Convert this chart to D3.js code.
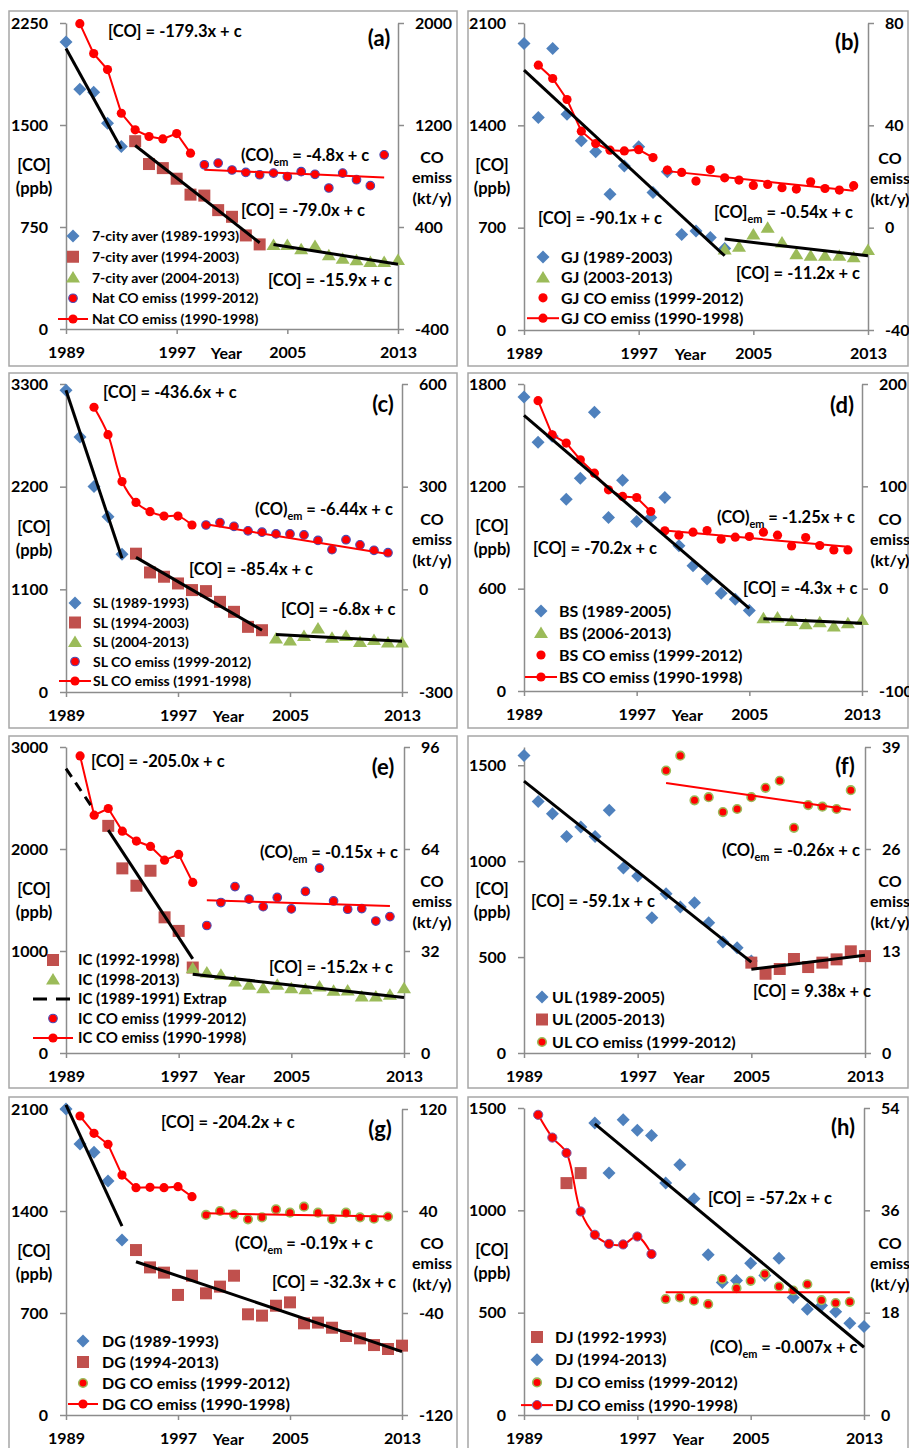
<!DOCTYPE html>
<html><head><meta charset="utf-8">
<script src="https://cdn.jsdelivr.net/npm/d3@7"></script>
<style>
body{margin:0;background:#fff;}
svg{display:block;font-family:Lato,"Open Sans",sans-serif;font-weight:bold;}
text{white-space:pre;}
</style></head><body>
<svg id="chart" width="909" height="1448"></svg>
<script>
// ---------------- DATA ----------------
const yearTicks = [1989, 1997, 2005, 2013];

// (a) 7-city average
const aDiamond = [2110, 1762, 1740, 1513, 1342];                       // 1989-1993
const aSquare = [1381, 1213, 1183, 1105, 988, 981, 874, 825, 688, 622]; // 1994-2003
const aTriangle = [617, 617, 586, 610, 542, 517, 505, 493, 493, 508];   // 2004-2013
const aEmLine = [1995, 1760, 1635, 1292, 1162, 1110, 1091, 1133, 979];  // 1990-1998
const aEmDots = [888, 901, 847, 828, 810, 823, 795, 834, 813, 706, 823, 771, 724, 966]; // 1999-2012
const aFitCO = [[1989, 2062, 1993, 1325], [1994, 1349, 2003, 634], [2004, 622, 2013, 476]];
const aFitEm = [1999, 849, 2012, 789];
const aTicksL = [0, 750, 1500, 2250];
const aTicksR = [-400, 400, 1200, 2000];

// (b) GJ
const bDiamond = [1959, 1453, 1925, 1476, 1294, 1219, 929, 1121, 1253, 941, 1082, 654, 677, 633, 558]; // 1989-2003
const bTriangle = [551, 569, 654, 699, 599, 519, 508, 508, 508, 497, 547]; // 2003-2013
const bEmLine = [63.5, 58.3, 50.1, 37.7, 32.9, 30.3, 30.0, 30.5, 27.4];   // 1990-1998
const bEmDots = [22.5, 21.6, 18.2, 22.7, 19.5, 18.6, 16.5, 16.9, 15.6, 15.1, 17.9, 15.3, 14.7, 16.4];
const bFitCO = [[1989, 1777, 2003, 508], [2003, 622, 2013, 508]];
const bFitEm = [1999, 22.1, 2012, 14.4];
const bTicksL = [0, 700, 1400, 2100];
const bTicksR = [-40, 0, 40, 80];

// (c) SL
const cDiamond = [3232, 2731, 2201, 1879, 1475];                             // 1989-1993
const cSquare = [1482, 1281, 1235, 1163, 1092, 1081, 966, 859, 698, 662];    // 1994-2003
const cTriangle = [573, 551, 601, 680, 580, 601, 537, 558, 530, 530];        // 2004-2013
const cEmLine = [532, 452, 315, 254, 227, 214, 214, 188];                    // 1991-1998
const cEmDots = [188, 195, 184, 171, 167, 162, 162, 159, 143, 116, 145, 130, 114, 107];
const cFitCO = [[1989, 3232, 1993, 1432], [1994, 1442, 2003, 662], [2004, 616, 2013, 544]];
const cFitEm = [1999, 190, 2012, 103];
const cTicksL = [0, 1100, 2200, 3300];
const cTicksR = [-300, 0, 300, 600];

// (d) BS
const dDiamond = [1724, 1458, 1493, 1125, 1248, 1634, 1017, 1235, 994, 1017, 1135, 851, 734, 657, 573, 538, 472]; // 1989-2005
const dTriangle = [427, 431, 411, 391, 403, 378, 397, 417];                  // 2006-2013
const dEmLine = [183.7, 150.4, 142.3, 126, 112.9, 96.6, 90.1, 89.1, 75.4];   // 1990-1998
const dEmDots = [56.5, 52.3, 55.2, 56.8, 48.4, 50.3, 51, 55.2, 52.3, 41.8, 50, 42.2, 37.9, 37.9];
const dFitCO = [[1989, 1616, 2005, 485], [2006, 423, 2013, 397]];
const dFitEm = [1999, 56.8, 2012, 40.9];
const dTicksL = [0, 600, 1200, 1800];
const dTicksR = [-100, 0, 100, 200];

// (e) IC
const eSquare = [2227, 1810, 1640, 1787, 1330, 1197, 838];                   // 1992-1998
const eTriangle = [832, 789, 766, 701, 668, 636, 668, 636, 626, 652, 610, 613, 554, 554, 571, 636]; // 1998-2013
const eEmLine = [93.2, 74.6, 76.7, 69.6, 66.5, 64.8, 60.5, 62.3, 53.5];       // 1990-1998
const eEmDots = [40.0, 47.2, 52.2, 48.3, 45.9, 48.8, 45.2, 50.7, 58.0, 47.7, 45.1, 45.3, 41.4, 42.8];
const eFitExtrap = [1989, 2788, 1991, 2380];
const eFitCO = [[1992, 2185, 1998, 923], [1998, 773, 2013, 545]];
const eFitEm = [1999, 47.9, 2012, 46.1];
const eTicksL = [0, 1000, 2000, 3000];
const eTicksR = [0, 32, 64, 96];

// (f) UL
const fDiamond = [1551, 1311, 1247, 1129, 1178, 1129, 1265, 964, 922, 705, 830, 761, 783, 679, 578, 549, 480]; // 1989-2005
const fSquare = [471, 413, 438, 490, 448, 471, 488, 530, 505];               // 2005-2013
const fEmDots = [36.0, 37.9, 32.2, 32.6, 30.7, 31.1, 32.6, 33.8, 34.7, 28.7, 31.6, 31.4, 31.1, 33.5];
const fFitCO = [[1989, 1417, 2005, 474], [2005, 436, 2013, 509]];
const fFitEm = [1999, 34.4, 2012, 31.0];
const fTicksL = [0, 500, 1000, 1500];
const fTicksR = [0, 13, 26, 39];

// (g) DG
const gDiamond = [2100, 1860, 1803, 1606, 1201];                              // 1989-1993
const gSquare = [1132, 1013, 977, 824, 956, 835, 881, 956, 691, 682, 750, 773, 629, 634, 599, 542, 526, 480, 453, 476]; // 1994-2013
const gEmLine = [114.5, 100.9, 92.3, 68.2, 58.3, 58.6, 58.3, 59.1, 51.2];     // 1990-1998
const gEmDots = [36.9, 40, 37.4, 33.5, 35, 41.3, 38.7, 43.4, 38.7, 33.7, 38.7, 35, 34, 35.6];
const gFitCO = [[1989, 2128, 1993, 1297], [1994, 1052, 2013, 435]];
const gFitEm = [1999, 38.2, 2012, 35.6];
const gTicksL = [0, 700, 1400, 2100];
const gTicksR = [-120, -40, 40, 120];

// (h) DJ
const hSquare = [1133, 1182];                                                 // 1992-1993
const hDiamond = [1427, 1182, 1443, 1391, 1366, 1133, 1223, 1057, 783, 647, 657, 742, 682, 766, 574, 517, 535, 505, 448, 432]; // 1994-2013
const hEmLine = [52.8, 48.8, 46.1, 35.8, 31.7, 30.1, 30.0, 31.4, 28.3];        // 1990-1998
const hEmDots = [20.4, 20.7, 20.1, 19.5, 23.9, 22.3, 23.6, 24.8, 22.6, 21.9, 23.0, 20.2, 19.7, 19.9];
const hFitCO = [[1994, 1422, 2013, 331]];
const hFitEm = [1999, 21.6, 2012, 21.6];
const hTicksL = [0, 500, 1000, 1500];
const hTicksR = [0, 18, 36, 54];

// ---------------- STYLE / LAYOUT ----------------
const COL = {blue: '#4f81bd', brick: '#c0504d', green: '#9bbb59', red: '#ff0000', axis: '#8c8c8c', frame: '#a6a6a6'};
const RING_BLUE = '#4b4bb4', RING_GREEN = '#9bbb59', RING_PURPLE = '#7a5aa8';

const panels = [
  {label: '(a)', frame: [9, 11, 448, 355], L: 66, R: 398, T: 23, B: 329, yDom: [0, 2250], y2Dom: [-400, 2000], tL: aTicksL, tR: aTicksR, rtx: 432,
   series: [['diamond', 1989, aDiamond], ['square', 1994, aSquare], ['triangle', 2004, aTriangle]],
   emLine: [1990, aEmLine], emDots: [1999, aEmDots], dotRing: RING_BLUE, lineRing: null, curve: d3.curveLinear,
   fits: aFitCO, fitEm: aFitEm,
   texts: [[108, 31, '[CO] = -179.3x + c'], [241, 155, ['(CO)', 'em', ' = -4.8x + c']], [241, 210, '[CO] = -79.0x + c'], [268, 280, '[CO] = -15.9x + c']],
   lab: [379, 38],
   legend: {mx: 73, tx: 92, y0: 236, dy: 20.75, fs: 14, half: 15, items: [['diamond', '7-city aver (1989-1993)'], ['square', '7-city aver (1994-2003)'], ['triangle', '7-city aver (2004-2013)'], ['emdot', 'Nat CO emiss (1999-2012)'], ['emline', 'Nat CO emiss (1990-1998)']]}},
  {label: '(b)', frame: [468, 11, 440, 355], L: 524, R: 868, T: 23, B: 330, yDom: [0, 2100], y2Dom: [-40, 80], tL: bTicksL, tR: bTicksR, rtx: 890,
   series: [['diamond', 1989, bDiamond], ['triangle', 2003, bTriangle]],
   emLine: [1990, bEmLine], emDots: [1999, bEmDots], dotRing: null, lineRing: null, curve: d3.curveLinear,
   fits: bFitCO, fitEm: bFitEm,
   texts: [[538, 218, '[CO] = -90.1x + c'], [714, 212, ['[CO]', 'em', ' = -0.54x + c']], [736, 273, '[CO] = -11.2x + c']],
   lab: [847, 42],
   legend: {mx: 543, tx: 561, y0: 257, dy: 20.4, fs: 16, half: 16, items: [['diamond', 'GJ (1989-2003)'], ['triangle', 'GJ (2003-2013)'], ['emdot', 'GJ CO emiss (1999-2012)'], ['emline', 'GJ CO emiss (1990-1998)']]}},
  {label: '(c)', frame: [9, 373, 448, 355], L: 66, R: 402, T: 384, B: 692, yDom: [0, 3300], y2Dom: [-300, 600], tL: cTicksL, tR: cTicksR, rtx: 432,
   series: [['diamond', 1989, cDiamond], ['square', 1994, cSquare], ['triangle', 2004, cTriangle]],
   emLine: [1991, cEmLine], emDots: [1999, cEmDots], dotRing: RING_BLUE, lineRing: null, curve: d3.curveCatmullRom,
   fits: cFitCO, fitEm: cFitEm,
   texts: [[103, 392, '[CO] = -436.6x + c'], [255, 509, ['(CO)', 'em', ' = -6.44x + c']], [189, 569, '[CO] = -85.4x + c'], [281, 609, '[CO] = -6.8x + c']],
   lab: [383, 404],
   legend: {mx: 75, tx: 93, y0: 603, dy: 19.5, fs: 14, half: 16, items: [['diamond', 'SL (1989-1993)'], ['square', 'SL (1994-2003)'], ['triangle', 'SL (2004-2013)'], ['emdot', 'SL CO emiss (1999-2012)'], ['emline', 'SL CO emiss (1991-1998)']]}},
  {label: '(d)', frame: [468, 373, 440, 355], L: 524, R: 862, T: 384, B: 691, yDom: [0, 1800], y2Dom: [-100, 200], tL: dTicksL, tR: dTicksR, rtx: 890,
   series: [['diamond', 1989, dDiamond], ['triangle', 2006, dTriangle]],
   emLine: [1990, dEmLine], emDots: [1999, dEmDots], dotRing: null, lineRing: null, curve: d3.curveLinear,
   fits: dFitCO, fitEm: dFitEm,
   texts: [[717, 517, ['(CO)', 'em', ' = -1.25x + c']], [533, 548, '[CO] = -70.2x + c'], [743, 588, '[CO] = -4.3x + c']],
   lab: [842, 405],
   legend: {mx: 541, tx: 559, y0: 611, dy: 22, fs: 16, half: 16, items: [['diamond', 'BS (1989-2005)'], ['triangle', 'BS (2006-2013)'], ['emdot', 'BS CO emiss (1999-2012)'], ['emline', 'BS CO emiss (1990-1998)']]}},
  {label: '(e)', frame: [9, 736, 448, 352], L: 66, R: 404, T: 747, B: 1053, yDom: [0, 3000], y2Dom: [0, 96], tL: eTicksL, tR: eTicksR, rtx: 432,
   series: [['square', 1992, eSquare], ['triangle', 1998, eTriangle]],
   emLine: [1990, eEmLine], emDots: [1999, eEmDots], dotRing: RING_BLUE, lineRing: null, curve: d3.curveLinear,
   fits: eFitCO, fitEm: eFitEm, extrap: eFitExtrap,
   texts: [[91, 761, '[CO] = -205.0x + c'], [260, 852, ['(CO)', 'em', ' = -0.15x + c']], [269, 967, '[CO] = -15.2x + c']],
   lab: [383, 767],
   legend: {mx: 53, tx: 78, y0: 960, dy: 19.5, fs: 15, half: 20, items: [['square', 'IC (1992-1998)'], ['triangle', 'IC (1998-2013)'], ['dash', 'IC (1989-1991) Extrap'], ['emdot', 'IC CO emiss (1999-2012)'], ['emline', 'IC CO emiss (1990-1998)']]}},
  {label: '(f)', frame: [468, 736, 440, 352], L: 524, R: 865, T: 747, B: 1053, yDom: [0, 1595], y2Dom: [0, 39], tL: fTicksL, tR: fTicksR, rtx: 890,
   series: [['diamond', 1989, fDiamond], ['square', 2005, fSquare]],
   emLine: null, emDots: [1999, fEmDots], dotRing: RING_GREEN, lineRing: null, curve: d3.curveLinear,
   fits: fFitCO, fitEm: fFitEm,
   texts: [[722, 850, ['(CO)', 'em', ' = -0.26x + c']], [531, 901, '[CO] = -59.1x + c'], [753, 991, '[CO] = 9.38x + c']],
   lab: [845, 766],
   legend: {mx: 542, tx: 552, y0: 997, dy: 22.5, fs: 16, half: 16, items: [['diamond', 'UL (1989-2005)'], ['square', 'UL (2005-2013)'], ['emdot', 'UL CO emiss (1999-2012)']]}},
  {label: '(g)', frame: [9, 1097, 448, 360], L: 66, R: 402, T: 1109, B: 1415, yDom: [0, 2100], y2Dom: [-120, 120], tL: gTicksL, tR: gTicksR, rtx: 432,
   series: [['diamond', 1989, gDiamond], ['square', 1994, gSquare]],
   emLine: [1990, gEmLine], emDots: [1999, gEmDots], dotRing: RING_GREEN, lineRing: null, curve: d3.curveLinear,
   fits: gFitCO, fitEm: gFitEm,
   texts: [[161, 1122, '[CO] = -204.2x + c'], [235, 1243, ['(CO)', 'em', ' = -0.19x + c']], [272, 1282, '[CO] = -32.3x + c']],
   lab: [380, 1129],
   legend: {mx: 83, tx: 102, y0: 1341, dy: 21, fs: 16, half: 15, items: [['diamond', 'DG (1989-1993)'], ['square', 'DG (1994-2013)'], ['emdot', 'DG CO emiss (1999-2012)'], ['emline', 'DG CO emiss (1990-1998)']]}},
  {label: '(h)', frame: [468, 1097, 440, 360], L: 524, R: 864, T: 1108, B: 1415, yDom: [0, 1500], y2Dom: [0, 54], tL: hTicksL, tR: hTicksR, rtx: 890,
   series: [['square', 1992, hSquare], ['diamond', 1994, hDiamond]],
   emLine: [1990, hEmLine], emDots: [1999, hEmDots], dotRing: RING_GREEN, lineRing: RING_PURPLE, curve: d3.curveCatmullRom,
   fits: hFitCO, fitEm: hFitEm,
   texts: [[708, 1198, '[CO] = -57.2x + c'], [710, 1347, ['(CO)', 'em', ' = -0.007x + c']]],
   lab: [843, 1127],
   legend: {mx: 537, tx: 555, y0: 1337, dy: 22.7, fs: 16, half: 16, items: [['square', 'DJ (1992-1993)'], ['diamond', 'DJ (1994-2013)'], ['emdot', 'DJ CO emiss (1999-2012)'], ['emline', 'DJ CO emiss (1990-1998)']]}}
];

// ---------------- DRAW ----------------
const svg = d3.select('#chart');
const FONT = 'Lato, "Open Sans", sans-serif';
const EQ_FS = 16.5;
const plainNum = d => String(d);   // hyphen-minus, as in the original

function shapePath(type) {
  if (type === 'diamond') return 'M0,-6.5L6.5,0L0,6.5L-6.5,0Z';
  if (type === 'square') return 'M-6,-6H6V6H-6Z';
  return 'M0,-6.5L7,5L-7,5Z';
}
const shapeFill = {diamond: COL.blue, square: COL.brick, triangle: COL.green};

function drawText(g, x, y, parts, fs) {
  const t = g.append('text').attr('x', x).attr('y', y + fs * 0.36).attr('font-size', fs).attr('fill', '#000');
  if (typeof parts === 'string') { t.text(parts); return; }
  t.append('tspan').text(parts[0]);
  t.append('tspan').attr('font-size', fs * 0.66).attr('dy', fs * 0.3).text(parts[1]);
  t.append('tspan').attr('dy', -fs * 0.3).text(parts[2]);
}

function styleAxis(ax) {
  ax.attr('font-family', FONT).attr('font-size', 16).attr('font-weight', 'bold');
  ax.select('.domain').attr('stroke', COL.axis).attr('stroke-width', 1.5);
  ax.selectAll('.tick line').attr('stroke', COL.axis).attr('stroke-width', 1.5);
  ax.selectAll('.tick text').attr('fill', '#000');
}

panels.forEach(p => {
  const g = svg.append('g');
  // frame
  g.append('rect').attr('x', p.frame[0]).attr('y', p.frame[1]).attr('width', p.frame[2]).attr('height', p.frame[3])
    .attr('fill', '#fff').attr('stroke', COL.frame).attr('stroke-width', 1.5);

  const x = d3.scaleLinear().domain([1989, 2013]).range([p.L, p.R]);
  const yL = d3.scaleLinear().domain(p.yDom).range([p.B, p.T]);
  const yR = d3.scaleLinear().domain(p.y2Dom).range([p.B, p.T]);

  // axes
  const axL = g.append('g').attr('transform', `translate(${p.L},0)`)
    .call(d3.axisLeft(yL).tickValues(p.tL).tickSize(6).tickSizeOuter(0).tickPadding(12).tickFormat(plainNum));
  styleAxis(axL);
  const axR = g.append('g').attr('transform', `translate(${p.R},0)`)
    .call(d3.axisRight(yR).tickValues(p.tR).tickSize(6).tickSizeOuter(0).tickPadding(11).tickFormat(plainNum));
  styleAxis(axR);
  const axB = g.append('g').attr('transform', `translate(0,${p.B})`)
    .call(d3.axisBottom(x).tickValues(yearTicks).tickSize(5).tickSizeOuter(0).tickPadding(13).tickFormat(plainNum));
  styleAxis(axB);

  // axis titles
  const mid = (p.T + p.B) / 2;
  g.append('text').attr('x', x(2000.6)).attr('y', p.B + 24 + 6).attr('text-anchor', 'middle').attr('font-size', 16).text('Year');
  g.append('text').attr('x', p.L - 32).attr('y', mid - 11.5 + 6).attr('text-anchor', 'middle').attr('font-size', 16.5).text('[CO]');
  g.append('text').attr('x', p.L - 32).attr('y', mid + 11.5 + 6).attr('text-anchor', 'middle').attr('font-size', 16.5).text('(ppb)');
  [['CO', -19], ['emiss', 1], ['(kt/y)', 22]].forEach(([s, dy]) =>
    g.append('text').attr('x', p.rtx).attr('y', mid + dy + 6).attr('text-anchor', 'middle').attr('font-size', 16).text(s));

  // CO marker series
  p.series.forEach(([type, start, vals]) => {
    g.append('g').selectAll('path').data(vals).join('path')
      .attr('d', shapePath(type)).attr('fill', shapeFill[type])
      .attr('transform', (d, i) => `translate(${x(start + i)},${yL(d)})`);
  });

  // emission line 1990-1998
  if (p.emLine) {
    const [s0, vals] = p.emLine;
    const pts = vals.map((v, i) => [s0 + i, v]);
    g.append('path').datum(pts).attr('fill', 'none').attr('stroke', COL.red).attr('stroke-width', 2)
      .attr('d', d3.line().curve(p.curve).x(d => x(d[0])).y(d => yR(d[1])));
    g.append('g').selectAll('circle').data(pts).join('circle')
      .attr('cx', d => x(d[0])).attr('cy', d => yR(d[1])).attr('r', 4.6).attr('fill', COL.red)
      .attr('stroke', p.lineRing || 'none').attr('stroke-width', 1);
  }
  // emission dots 1999-2012
  {
    const [s0, vals] = p.emDots;
    g.append('g').selectAll('circle').data(vals).join('circle')
      .attr('cx', (d, i) => x(s0 + i)).attr('cy', d => yR(d)).attr('r', p.dotRing ? 4.3 : 4.6).attr('fill', COL.red)
      .attr('stroke', p.dotRing || 'none').attr('stroke-width', p.dotRing === RING_GREEN ? 1.6 : 1.1);
  }
  // emission fit
  g.append('line').attr('x1', x(p.fitEm[0])).attr('y1', yR(p.fitEm[1])).attr('x2', x(p.fitEm[2])).attr('y2', yR(p.fitEm[3]))
    .attr('stroke', COL.red).attr('stroke-width', 2);

  // CO fits
  p.fits.forEach(f => {
    g.append('line').attr('x1', x(f[0])).attr('y1', yL(f[1])).attr('x2', x(f[2])).attr('y2', yL(f[3]))
      .attr('stroke', '#000').attr('stroke-width', 3);
  });
  if (p.extrap) {
    const f = p.extrap;
    g.append('line').attr('x1', x(f[0])).attr('y1', yL(f[1])).attr('x2', x(f[2])).attr('y2', yL(f[3]))
      .attr('stroke', '#000').attr('stroke-width', 3).attr('stroke-dasharray', '10,7');
  }

  // equations
  p.texts.forEach(([tx, ty, parts]) => drawText(g, tx, ty, parts, EQ_FS));
  g.append('text').attr('x', p.lab[0]).attr('y', p.lab[1] + 8).attr('text-anchor', 'middle').attr('font-size', 22).text(p.label);

  // legend
  const lg = p.legend;
  lg.items.forEach(([type, label], i) => {
    const cy = lg.y0 + i * lg.dy;
    if (type === 'emline') {
      g.append('line').attr('x1', lg.mx - lg.half).attr('x2', lg.mx + lg.half).attr('y1', cy).attr('y2', cy)
        .attr('stroke', COL.red).attr('stroke-width', 2);
      g.append('circle').attr('cx', lg.mx).attr('cy', cy).attr('r', 4.6).attr('fill', COL.red)
        .attr('stroke', p.lineRing || 'none').attr('stroke-width', 1);
    } else if (type === 'emdot') {
      g.append('circle').attr('cx', lg.mx).attr('cy', cy).attr('r', p.dotRing ? 4.3 : 4.6).attr('fill', COL.red)
        .attr('stroke', p.dotRing || 'none').attr('stroke-width', p.dotRing === RING_GREEN ? 1.6 : 1.1);
    } else if (type === 'dash') {
      g.append('line').attr('x1', lg.mx - lg.half).attr('x2', lg.mx + lg.half - 3).attr('y1', cy).attr('y2', cy)
        .attr('stroke', '#000').attr('stroke-width', 3).attr('stroke-dasharray', '14,9');
    } else {
      g.append('path').attr('d', shapePath(type)).attr('fill', shapeFill[type]).attr('transform', `translate(${lg.mx},${cy})`);
    }
    g.append('text').attr('x', lg.tx).attr('y', cy + lg.fs * 0.36).attr('font-size', lg.fs).text(label);
  });
});
</script>
</body></html>
